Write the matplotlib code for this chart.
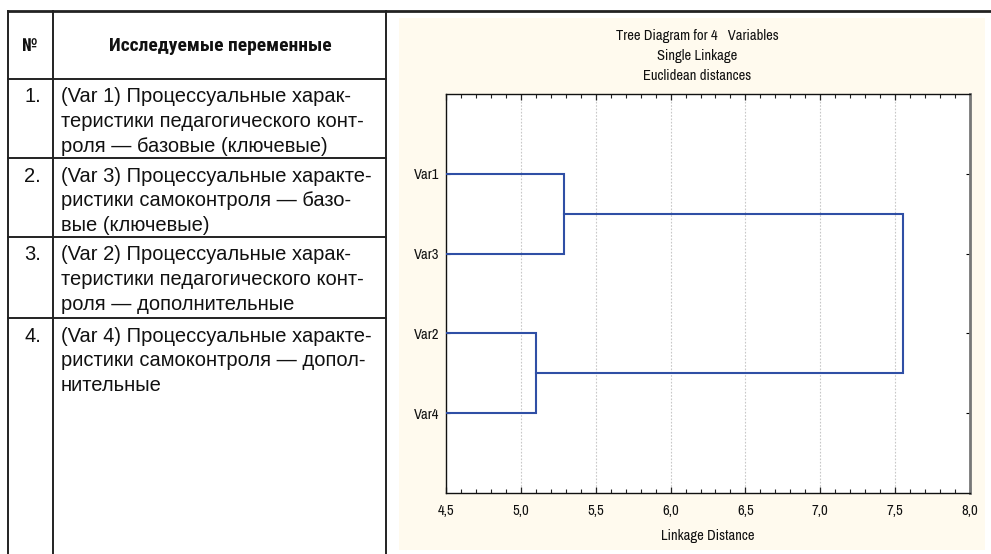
import matplotlib
matplotlib.use("Agg")
import matplotlib.pyplot as plt
from matplotlib.lines import Line2D
from matplotlib.patches import Rectangle
from matplotlib.ticker import MultipleLocator, FuncFormatter

# ---------------- data ----------------
leaf_labels = ["Var1", "Var3", "Var2", "Var4"]
# merges: (left member, right member, linkage distance)
merge_a = ("Var1", "Var3", 5.29)
merge_b = ("Var2", "Var4", 5.10)
merge_top = ("A", "B", 7.55)
x_min, x_max = 4.5, 8.0
grid_values = [5.0, 5.5, 6.0, 6.5, 7.0, 7.5]

chart_titles = ["Tree Diagram for 4   Variables", "Single Linkage", "Euclidean distances"]
x_label = "Linkage Distance"

header_num = "№"
header_text = "Исследуемые переменные"
row_numbers = ["1.", "2.", "3.", "4."]
row_lines = [
    ["(Var 1) Процессуальные харак-", "теристики педагогического конт-", "роля — базовые (ключевые)"],
    ["(Var 3) Процессуальные характе-", "ристики самоконтроля — базо-", "вые (ключевые)"],
    ["(Var 2) Процессуальные харак-", "теристики педагогического конт-", "роля — дополнительные"],
    ["(Var 4) Процессуальные характе-", "ристики самоконтроля — допол-", "нительные"],
]

# ---------------- layout ----------------
W, H = 991, 554
fig = plt.figure(figsize=(W / 100, H / 100), dpi=100)
fig.patch.set_facecolor("white")

def fx(px):
    return px / W

def fy(py):
    return 1 - py / H

def hline(x0, x1, y, lw=1.4, color="#222222"):
    fig.add_artist(Line2D([fx(x0), fx(x1)], [fy(y), fy(y)], lw=lw, color=color,
                          transform=fig.transFigure))

def vline(x, y0, y1, lw=1.4, color="#222222"):
    fig.add_artist(Line2D([fx(x), fx(x)], [fy(y0), fy(y1)], lw=lw, color=color,
                          transform=fig.transFigure))

# table grid
hline(8, 991, 11, lw=2.0)
row_bounds = [11, 79, 158, 237, 318]
for yb in row_bounds[1:]:
    hline(8, 386, yb)
vline(8, 11, 554)
vline(53, 11, 554)
vline(386, 11, 554)

body_font = ["Liberation Sans", "DejaVu Sans"]
head_font = ["Roboto Condensed", "DejaVu Sans"]
chart_font = ["Archivo Narrow", "Roboto Condensed", "DejaVu Sans"]

fig.text(fx(30), fy(46), header_num, ha="center", va="center", fontsize=13,
         fontweight="bold", family=head_font, color="#111111")
fig.text(fx(220), fy(46), header_text, ha="center", va="center", fontsize=14,
         fontweight="bold", family=head_font, color="#111111")

line_step = 24.6
for i, (num, lines) in enumerate(zip(row_numbers, row_lines)):
    top = row_bounds[i + 1]
    y_first = top + 18
    fig.text(fx(41), fy(y_first), num, ha="right", va="center", fontsize=14.5, family=body_font,
             color="#111111")
    for j, ln in enumerate(lines):
        fig.text(fx(61), fy(y_first + j * line_step), ln, ha="left", va="center",
                 fontsize=14.5, family=body_font, color="#111111")

# chart panel background
fig.add_artist(Rectangle((fx(399), fy(550)), fx(985) - fx(399), fy(18) - fy(550),
                         transform=fig.transFigure, facecolor="#fffaee", edgecolor="none",
                         zorder=0))

for k, t in enumerate(chart_titles):
    fig.text(fx(697), fy(36 + 20 * k), t, ha="center", va="center", fontsize=10.5,
             family=chart_font, color="#111111")

# axes
ax_l, ax_r, ax_t, ax_b = 446, 970, 94, 493
ax = fig.add_axes([fx(ax_l), fy(ax_b), fx(ax_r) - fx(ax_l), fy(ax_t) - fy(ax_b)])
ax.set_facecolor("white")
ax.set_xlim(x_min, x_max)
ax.set_ylim(5, 0)

pos = {name: i + 1 for i, name in enumerate(leaf_labels)}
line_color = "#2f4fa5"

def draw_merge(dist, ya, yb, xa, xb):
    ax.plot([xa, dist, dist, xb], [ya, ya, yb, yb], color=line_color, lw=1.5,
            solid_joinstyle="miter", zorder=3)
    return (ya + yb) / 2

ya = draw_merge(merge_a[2], pos[merge_a[0]], pos[merge_a[1]], x_min, x_min)
yb = draw_merge(merge_b[2], pos[merge_b[0]], pos[merge_b[1]], x_min, x_min)
draw_merge(merge_top[2], ya, yb, merge_a[2], merge_b[2])

# grid
for gx in grid_values:
    ax.axvline(gx, color="#c8c8c8", lw=0.8, ls=(0, (1.5, 1.5)), zorder=1)

ax.xaxis.set_major_locator(MultipleLocator(0.5))
ax.xaxis.set_minor_locator(MultipleLocator(0.1))
ax.xaxis.set_major_formatter(FuncFormatter(lambda v, p: f"{v:.1f}".replace(".", ",")))
ax.set_yticks([pos[n] for n in leaf_labels])
ax.set_yticklabels(leaf_labels)
ax.tick_params(axis="x", which="both", direction="in", top=True, bottom=True,
               labelsize=10.5, pad=8, color="#222222")
ax.tick_params(axis="x", which="major", length=4, width=0.9)
ax.tick_params(axis="x", which="minor", length=3, width=0.8)
ax.tick_params(axis="y", which="major", direction="in", left=True, right=True,
               length=3, width=0.8, labelsize=10.5, pad=5)
for lbl in ax.get_xticklabels() + ax.get_yticklabels():
    lbl.set_family(chart_font)
    lbl.set_color("#111111")

for s in ["left", "bottom", "top"]:
    ax.spines[s].set_color("#111111")
    ax.spines[s].set_linewidth(1.0)
ax.spines["right"].set_color("#777777")
ax.spines["right"].set_linewidth(2.0)

ax.set_xlabel(x_label, fontsize=10.5, family=chart_font, labelpad=8, color="#111111")

fig.savefig("out.png", dpi=100)
